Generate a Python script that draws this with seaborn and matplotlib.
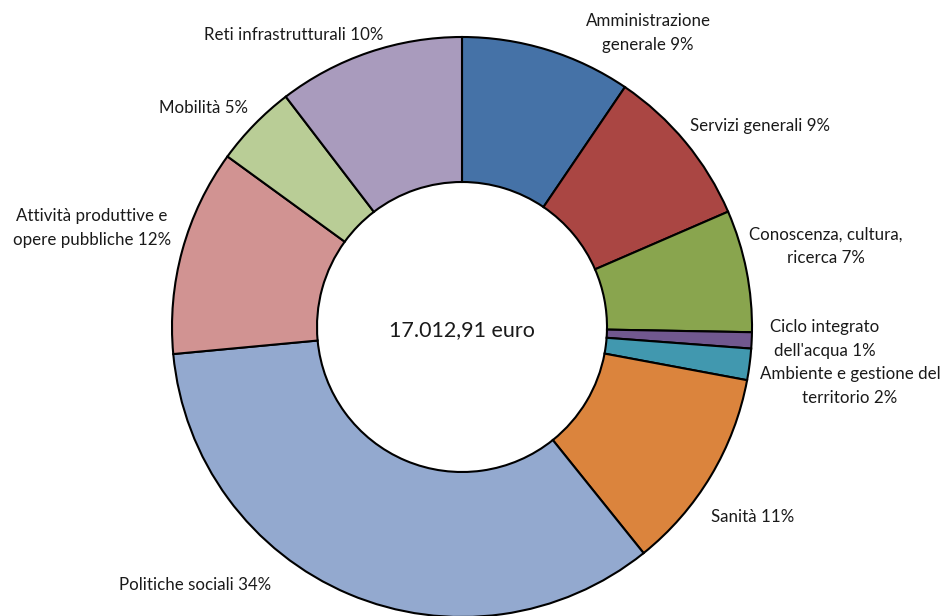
import matplotlib
matplotlib.use("Agg")
import matplotlib.pyplot as plt
import seaborn as sns

categories = ["Amministrazione\ngenerale 9%", "Servizi generali 9%", "Conoscenza, cultura,\nricerca 7%",
              "Ciclo integrato\ndell'acqua 1%", "Ambiente e gestione del\nterritorio 2%", "Sanità 11%",
              "Politiche sociali 34%", "Attività produttive e\nopere pubbliche 12%", "Mobilità 5%",
              "Reti infrastrutturali 10%"]
values = [9.5, 9.0, 6.8, 0.9, 1.75, 11.3, 34.3, 11.5, 4.6, 10.4]
colors = ["#4572A7", "#AA4643", "#89A54E", "#71588F", "#4198AF", "#DB843D",
          "#93A9CF", "#D19392", "#B9CD96", "#A99BBD"]
center_text = "17.012,91 euro"

sns.set_style("white")
plt.rcParams['font.family'] = ['Lato', 'DejaVu Sans']

W, H = 947, 616
fig = plt.figure(figsize=(W / 100, H / 100), dpi=100)
ax = fig.add_axes([0, 0, 1, 1])

cx, cy, r = 462, H - 327, 290
ax.pie(values, colors=sns.color_palette(colors), startangle=90, counterclock=False,
       center=(cx, cy), radius=r, frame=True,
       wedgeprops=dict(width=r * 0.5, edgecolor='black', linewidth=1.5))
ax.set_xlim(0, W)
ax.set_ylim(0, H)
ax.set_aspect('equal')
ax.axis('off')

label_pos = [(648, 33), (760, 126), (826, 246), (825, 339), (850, 386), (753, 517),
             (195, 585), (92, 228), (203, 108), (294, 35)]
for lab, (x, y) in zip(categories, label_pos):
    ax.text(x, H - y, lab, ha='center', va='center', fontsize=12.2, color='#1a1a1a',
            linespacing=1.55)

ax.text(cx, cy - 3, center_text, ha='center', va='center', fontsize=15.5, color='#1a1a1a')

fig.savefig("out.png", dpi=100)
